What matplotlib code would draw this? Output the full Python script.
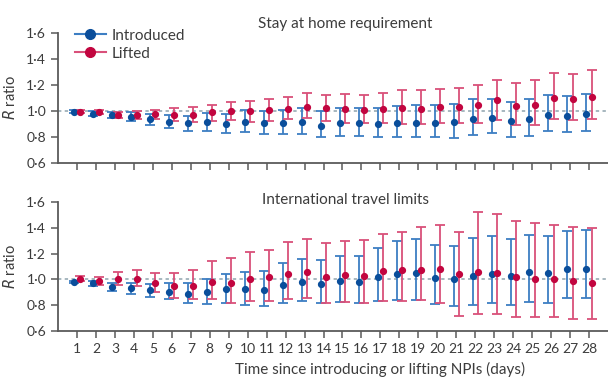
import matplotlib
matplotlib.use("Agg")
import matplotlib.pyplot as plt
import numpy as np
from matplotlib.ticker import FuncFormatter
from matplotlib.lines import Line2D

plt.rcParams['font.family'] = ['Lato', 'DejaVu Sans']

days = list(range(1, 29))

# Stay at home requirement
stay_intro = [0.995, 0.98, 0.97, 0.955, 0.94, 0.915, 0.905, 0.915, 0.90, 0.915, 0.905, 0.91, 0.915, 0.885,
              0.905, 0.905, 0.90, 0.905, 0.91, 0.91, 0.915, 0.94, 0.95, 0.92, 0.94, 0.97, 0.96, 0.975]
stay_intro_hi = [1.005, 1.0, 0.99, 0.99, 0.975, 0.97, 0.965, 0.985, 0.98, 1.005, 1.0, 1.01, 1.02, 1.0,
                 1.02, 1.025, 1.025, 1.04, 1.05, 1.045, 1.055, 1.09, 1.095, 1.07, 1.09, 1.12, 1.115, 1.13]
stay_intro_lo = [0.985, 0.96, 0.945, 0.925, 0.895, 0.87, 0.85, 0.845, 0.83, 0.84, 0.82, 0.82, 0.825, 0.80,
                 0.81, 0.81, 0.80, 0.80, 0.80, 0.80, 0.795, 0.815, 0.83, 0.80, 0.81, 0.85, 0.835, 0.845]
stay_lift = [0.995, 0.99, 0.97, 0.97, 0.975, 0.97, 0.97, 0.99, 1.0, 1.0, 1.005, 1.015, 1.03, 1.02,
             1.015, 1.01, 1.015, 1.025, 1.015, 1.03, 1.03, 1.045, 1.085, 1.04, 1.05, 1.10, 1.09, 1.11]
stay_lift_hi = [1.005, 1.01, 0.995, 1.0, 1.01, 1.02, 1.03, 1.05, 1.07, 1.08, 1.09, 1.11, 1.135, 1.125,
                1.13, 1.125, 1.14, 1.16, 1.16, 1.17, 1.18, 1.20, 1.24, 1.215, 1.235, 1.29, 1.285, 1.315]
stay_lift_lo = [0.985, 0.975, 0.95, 0.935, 0.935, 0.925, 0.915, 0.925, 0.93, 0.915, 0.92, 0.935, 0.945, 0.925,
                0.91, 0.91, 0.905, 0.90, 0.90, 0.905, 0.91, 0.91, 0.93, 0.895, 0.895, 0.94, 0.93, 0.94]

# International travel limits
trav_intro = [0.98, 0.97, 0.94, 0.93, 0.915, 0.905, 0.89, 0.905, 0.925, 0.925, 0.92, 0.955, 0.98, 0.965,
              0.985, 0.98, 1.015, 1.045, 1.05, 1.01, 1.0, 1.03, 1.045, 1.03, 1.055, 1.05, 1.08, 1.08]
trav_intro_hi = [0.99, 0.99, 0.975, 0.97, 0.965, 0.97, 0.97, 1.005, 1.045, 1.055, 1.065, 1.125, 1.16, 1.15,
                 1.18, 1.185, 1.245, 1.30, 1.315, 1.27, 1.26, 1.32, 1.335, 1.315, 1.345, 1.335, 1.375, 1.38]
trav_intro_lo = [0.97, 0.95, 0.91, 0.885, 0.86, 0.845, 0.815, 0.81, 0.815, 0.805, 0.795, 0.815, 0.83, 0.815,
                 0.825, 0.82, 0.83, 0.84, 0.84, 0.81, 0.79, 0.80, 0.82, 0.805, 0.825, 0.82, 0.855, 0.855]
trav_lift = [1.005, 0.99, 1.005, 1.0, 0.97, 0.945, 0.95, 0.98, 0.975, 1.005, 1.015, 1.04, 1.055, 1.02,
             1.035, 1.03, 1.065, 1.07, 1.075, 1.08, 1.04, 1.055, 1.05, 1.015, 1.005, 1.0, 0.99, 0.975]
trav_lift_hi = [1.03, 1.02, 1.055, 1.07, 1.05, 1.05, 1.07, 1.145, 1.165, 1.215, 1.23, 1.29, 1.31, 1.28,
                1.30, 1.305, 1.35, 1.365, 1.41, 1.42, 1.365, 1.52, 1.505, 1.455, 1.44, 1.42, 1.41, 1.395]
trav_lift_lo = [0.985, 0.96, 0.96, 0.945, 0.905, 0.855, 0.845, 0.845, 0.815, 0.835, 0.835, 0.85, 0.855, 0.815,
                0.825, 0.815, 0.835, 0.835, 0.84, 0.82, 0.72, 0.73, 0.735, 0.71, 0.705, 0.705, 0.695, 0.69]

yticks = [0.6, 0.8, 1.0, 1.2, 1.4, 1.6]

BLUE_M = '#0a4e9b'
BLUE_E = '#3d7ec3'
RED_M = '#c2053f'
RED_E = '#d9507a'
TXT = '#3c3c3c'
AX = '#5a5a5a'

fig = plt.figure(figsize=(6.08, 3.82), dpi=100)
ax1 = fig.add_axes([58/608, 1-163/382, 550/608, 130/382])
ax2 = fig.add_axes([58/608, 1-331/382, 550/608, 129/382])

fmt = FuncFormatter(lambda v, p: f"{v:.1f}".replace('.', '\u00b7'))

def panel(ax, intro, ilo, ihi, lift, llo, lhi, title, ty):
    x = np.array(days, dtype=float)
    off = 0.14
    intro = np.array(intro); lift = np.array(lift)
    ax.axhline(1.0, color='#8ea3ad', lw=1.1, ls=(0, (2.2, 2.2)), zorder=1)
    ax.errorbar(x - off, intro, yerr=[intro - np.array(ilo), np.array(ihi) - intro],
                fmt='o', color=BLUE_M, ms=4.2, ecolor=BLUE_E, elinewidth=1.3, capsize=3.5,
                capthick=1.3, zorder=3)
    ax.errorbar(x + off, lift, yerr=[lift - np.array(llo), np.array(lhi) - lift],
                fmt='o', color=RED_M, ms=4.2, ecolor=RED_E, elinewidth=1.3, capsize=3.5,
                capthick=1.3, zorder=3)
    ax.set_xlim(0, 29)
    ax.set_ylim(0.6, 1.6)
    ax.set_yticks(yticks)
    ax.yaxis.set_major_formatter(fmt)
    ax.set_xticks(days)
    for s in ['top', 'right']:
        ax.spines[s].set_visible(False)
    for s in ['left', 'bottom']:
        ax.spines[s].set_color(AX)
        ax.spines[s].set_linewidth(1.3)
    ax.spines['left'].set_bounds(0.6, 1.6)
    ax.tick_params(axis='both', colors=AX, labelcolor=TXT, labelsize=10, length=5, width=1.1)
    ax.set_ylabel('$\\mathit{R}$ ratio', color=TXT, fontsize=10.5, labelpad=6)
    fig.text(345/608, 1-ty/382, title, ha='center', va='center', color=TXT, fontsize=11)

panel(ax1, stay_intro, stay_intro_lo, stay_intro_hi, stay_lift, stay_lift_lo, stay_lift_hi,
      'Stay at home requirement', 24)
panel(ax2, trav_intro, trav_intro_lo, trav_intro_hi, trav_lift, trav_lift_lo, trav_lift_hi,
      'International travel limits', 200)

ax1.tick_params(axis='x', labelbottom=False)
ax2.set_xticklabels([str(d) for d in days])
fig.text(380/608, 1-369/382, 'Time since introducing or lifting NPIs (days)', ha='center', va='center',
         color=TXT, fontsize=11)

handles = [Line2D([0], [0], color=BLUE_E, lw=1.5, marker='o', ms=7, mfc=BLUE_M, mec=BLUE_M),
           Line2D([0], [0], color=RED_E, lw=1.5, marker='o', ms=7, mfc=RED_M, mec=RED_M)]
leg = ax1.legend(handles, ['Introduced', 'Lifted'], loc='upper left', bbox_to_anchor=(0.02, 1.08),
                 frameon=False, fontsize=11, handlelength=2.0, handletextpad=0.4, labelspacing=0.25,
                 borderaxespad=0)
for t in leg.get_texts():
    t.set_color(TXT)

fig.savefig('out.png', dpi=100)
